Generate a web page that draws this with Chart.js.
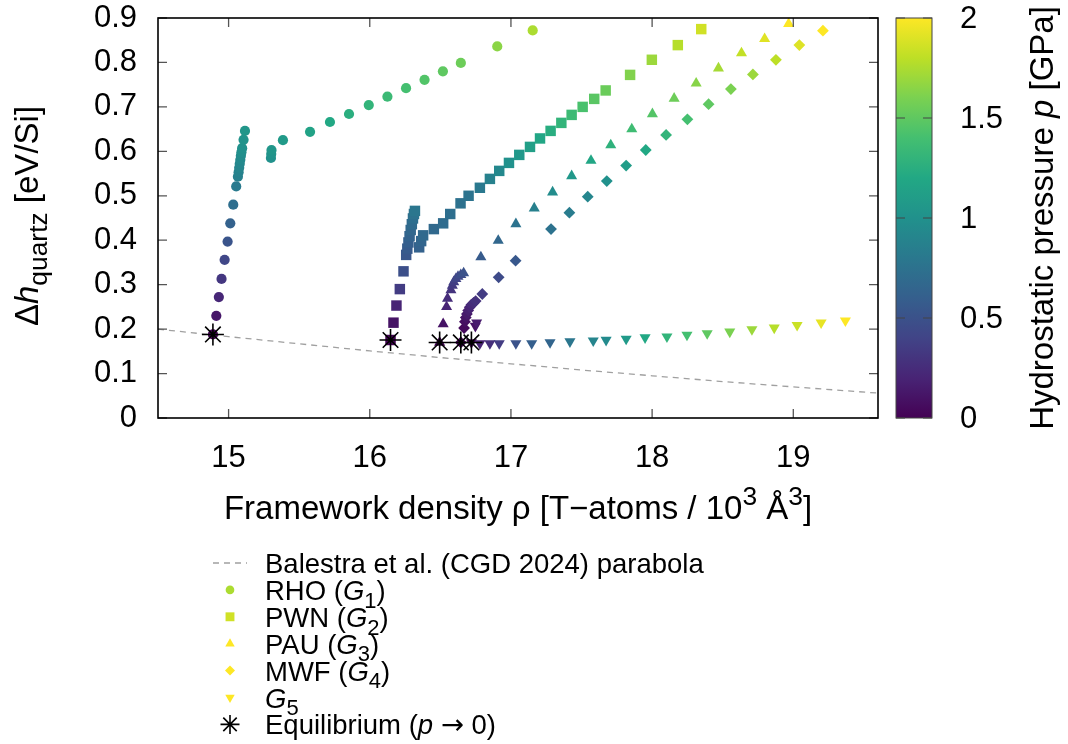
<!DOCTYPE html>
<html>
<head>
<meta charset="utf-8">
<script src="https://cdn.jsdelivr.net/npm/chart.js@4.4.1/dist/chart.umd.min.js"></script>
<style>
  html, body { margin: 0; padding: 0; background: #fff; }
</style>
</head>
<body>
<canvas id="chart" width="1068" height="744"></canvas>
<script>
// framework density rho [T-atoms / 10^3 A^3], energy dh [eV/Si], pressure p [GPa]
const parabolaX = [14.5, 15, 15.5, 16, 16.5, 17, 17.5, 18, 18.5, 19, 19.6];
const parabolaY = [0.200, 0.183, 0.167, 0.151, 0.136, 0.122, 0.108, 0.095, 0.082, 0.070, 0.056];

const rhoX = [14.889, 14.913, 14.931, 14.950, 14.972, 14.993, 15.012, 15.033, 15.054, 15.066, 15.071, 15.075, 15.079, 15.083, 15.087, 15.091, 15.096, 15.106, 15.116, 15.300, 15.302, 15.304, 15.385, 15.577, 15.718, 15.853, 15.993, 16.125, 16.257, 16.388, 16.518, 16.645, 16.903, 17.154];
const rhoY = [0.188, 0.230, 0.272, 0.313, 0.356, 0.397, 0.438, 0.480, 0.521, 0.543, 0.553, 0.563, 0.572, 0.581, 0.590, 0.598, 0.607, 0.626, 0.646, 0.585, 0.594, 0.603, 0.625, 0.644, 0.666, 0.684, 0.704, 0.723, 0.742, 0.761, 0.780, 0.799, 0.836, 0.872];
const rhoP = [0, 0.12, 0.22, 0.32, 0.42, 0.52, 0.62, 0.72, 0.82, 0.86, 0.88, 0.90, 0.92, 0.94, 0.96, 0.98, 1.00, 1.02, 1.04, 1.00, 1.02, 1.04, 1.08, 1.15, 1.20, 1.25, 1.30, 1.35, 1.40, 1.45, 1.50, 1.55, 1.65, 1.75];

const pwnX = [16.147, 16.168, 16.189, 16.213, 16.239, 16.258, 16.266, 16.274, 16.282, 16.290, 16.298, 16.306, 16.313, 16.320, 16.350, 16.364, 16.378, 16.454, 16.520, 16.570, 16.643, 16.700, 16.780, 16.851, 16.917, 16.986, 17.059, 17.135, 17.206, 17.281, 17.357, 17.430, 17.508, 17.590, 17.671, 17.844, 17.998, 18.182, 18.348];
const pwnY = [0.1755, 0.2145, 0.253, 0.290, 0.330, 0.367, 0.381, 0.395, 0.409, 0.423, 0.436, 0.449, 0.459, 0.466, 0.384, 0.398, 0.411, 0.425, 0.438, 0.459, 0.483, 0.500, 0.518, 0.538, 0.556, 0.574, 0.592, 0.610, 0.629, 0.646, 0.664, 0.682, 0.700, 0.718, 0.737, 0.772, 0.806, 0.839, 0.875];
const pwnP = [0, 0.10, 0.20, 0.35, 0.48, 0.54, 0.57, 0.60, 0.63, 0.66, 0.69, 0.72, 0.75, 0.78, 0.62, 0.65, 0.68, 0.68, 0.70, 0.72, 0.74, 0.76, 0.80, 0.87, 0.93, 1.00, 1.06, 1.12, 1.18, 1.24, 1.30, 1.36, 1.42, 1.48, 1.54, 1.62, 1.70, 1.78, 1.86];

const pauX = [16.495, 16.520, 16.544, 16.551, 16.575, 16.585, 16.595, 16.610, 16.625, 16.645, 16.665, 16.787, 16.910, 17.035, 17.165, 17.295, 17.430, 17.567, 17.707, 17.856, 18.002, 18.156, 18.312, 18.470, 18.633, 18.797, 18.967];
const pauY = [0.170, 0.2115, 0.250, 0.269, 0.288, 0.298, 0.306, 0.313, 0.318, 0.322, 0.326, 0.362, 0.399, 0.4365, 0.472, 0.508, 0.5445, 0.579, 0.614, 0.650, 0.684, 0.719, 0.753, 0.787, 0.821, 0.853, 0.887];
const pauP = [0, 0.10, 0.20, 0.25, 0.30, 0.33, 0.36, 0.40, 0.43, 0.46, 0.50, 0.57, 0.66, 0.76, 0.86, 0.96, 1.06, 1.18, 1.28, 1.37, 1.46, 1.55, 1.64, 1.73, 1.82, 1.91, 2.00];

const mwfX = [16.645, 16.668, 16.674, 16.680, 16.688, 16.697, 16.708, 16.720, 16.735, 16.750, 16.797, 16.913, 17.033, 17.284, 17.414, 17.544, 17.679, 17.816, 17.955, 18.099, 18.250, 18.400, 18.558, 18.714, 18.877, 19.043, 19.210];
const mwfY = [0.170, 0.2025, 0.2167, 0.226, 0.234, 0.242, 0.249, 0.255, 0.259, 0.263, 0.279, 0.3166, 0.354, 0.425, 0.462, 0.498, 0.533, 0.568, 0.603, 0.637, 0.672, 0.706, 0.740, 0.773, 0.806, 0.839, 0.8715];
const mwfP = [0, 0.05, 0.08, 0.11, 0.14, 0.17, 0.20, 0.23, 0.26, 0.29, 0.35, 0.45, 0.55, 0.75, 0.83, 0.91, 1.00, 1.10, 1.20, 1.30, 1.40, 1.50, 1.60, 1.70, 1.80, 1.90, 2.00];

const g5X = [16.720, 16.748, 16.757, 16.780, 16.851, 16.917, 17.035, 17.147, 17.277, 17.418, 17.583, 17.674, 17.816, 17.950, 18.105, 18.247, 18.390, 18.550, 18.707, 18.865, 19.027, 19.197, 19.369];
const g5Y = [0.170, 0.207, 0.2145, 0.168, 0.168, 0.168, 0.168, 0.168, 0.170, 0.172, 0.174, 0.1755, 0.178, 0.181, 0.183, 0.187, 0.1905, 0.194, 0.1995, 0.203, 0.209, 0.2145, 0.219];
const g5P = [0, 0.10, 0.15, 0.20, 0.27, 0.35, 0.50, 0.60, 0.65, 0.78, 0.90, 0.95, 1.08, 1.20, 1.30, 1.40, 1.50, 1.60, 1.70, 1.78, 1.84, 1.93, 2.00];

const eqX = [14.889, 16.147, 16.495, 16.645, 16.720];
const eqY = [0.188, 0.1755, 0.170, 0.170, 0.170];

const xTicks = [15, 16, 17, 18, 19];
const yTicks = [0, 0.1, 0.2, 0.3, 0.4, 0.5, 0.6, 0.7, 0.8, 0.9];
const cbTicks = [0, 0.5, 1, 1.5, 2];
const pMax = 2;

const FONT = '"Liberation Sans", Arial, sans-serif';
const FS = 31;        // tick labels
const FS_TITLE = 33;  // axis titles
const FS_KEY = 27.5;  // key entries

// viridis colour map
const viridisStops = ['#440154', '#482475', '#414487', '#355f8d', '#2a788e', '#21918c', '#22a884', '#44bf70', '#7ad151', '#bddf26', '#fde725'];
function hexRgb(h) {
  return [parseInt(h.slice(1, 3), 16), parseInt(h.slice(3, 5), 16), parseInt(h.slice(5, 7), 16)];
}
function viridis(t) {
  t = Math.max(0, Math.min(1, t));
  const n = viridisStops.length - 1;
  const i = Math.min(n - 1, Math.floor(t * n));
  const f = t * n - i;
  const a = hexRgb(viridisStops[i]), b = hexRgb(viridisStops[i + 1]);
  const c = a.map((v, k) => Math.round(v + (b[k] - v) * f));
  return 'rgb(' + c.join(',') + ')';
}

function points(xs, ys) {
  return xs.map((x, i) => ({ x: x, y: ys[i] }));
}

// text with italics, sub- and superscripts
function setFont(ctx, size, italic, family) {
  ctx.font = (italic ? 'italic ' : '') + size + 'px ' + (family || FONT);
}
function segSize(s, fs) {
  return (s.sub || s.sup) ? fs * 0.8 : fs;
}
function richWidth(ctx, segs, fs) {
  let w = 0;
  for (const s of segs) {
    setFont(ctx, segSize(s, fs), s.it, s.fam);
    w += ctx.measureText(s.t).width;
  }
  return w;
}
function drawRich(ctx, segs, x, y, fs, align) {
  const w = richWidth(ctx, segs, fs);
  let cx = align === 'center' ? x - w / 2 : align === 'right' ? x - w : x;
  ctx.textAlign = 'left';
  ctx.textBaseline = 'alphabetic';
  for (const s of segs) {
    setFont(ctx, segSize(s, fs), s.it, s.fam);
    const dy = s.sub ? fs * 0.28 : s.sup ? -fs * 0.42 : 0;
    ctx.fillText(s.t, cx, y + dy);
    cx += ctx.measureText(s.t).width;
  }
}

function series(label, xs, ys, ps, style, radius, rotation, order) {
  return {
    label: label,
    data: points(xs, ys),
    pointStyle: style,
    pointRadius: radius,
    pointRotation: rotation,
    pointBackgroundColor: ps.map(p => viridis(p / pMax)),
    pointBorderWidth: 0,
    legendColor: viridis(ps[ps.length - 1] / pMax),
    showLine: false,
    order: order
  };
}

const datasets = [
  {
    label: 'Balestra et al. (CGD 2024) parabola',
    data: points(parabolaX, parabolaY),
    showLine: true,
    borderColor: '#a0a0a0',
    borderWidth: 1.3,
    borderDash: [6, 5],
    pointRadius: 0,
    order: 6,
    legendText: [{ t: 'Balestra et al. (CGD 2024) parabola' }]
  },
  Object.assign(series('RHO', rhoX, rhoY, rhoP, 'circle', 5.1, 0, 5),
    { legendText: [{ t: 'RHO (' }, { t: 'G', it: true }, { t: '1', sub: true }, { t: ')' }] }),
  Object.assign(series('PWN', pwnX, pwnY, pwnP, 'rect', 7.4, 0, 4),
    { legendText: [{ t: 'PWN (' }, { t: 'G', it: true }, { t: '2', sub: true }, { t: ')' }] }),
  Object.assign(series('PAU', pauX, pauY, pauP, 'triangle', 6.4, 0, 3),
    { legendText: [{ t: 'PAU (' }, { t: 'G', it: true }, { t: '3', sub: true }, { t: ')' }] }),
  Object.assign(series('MWF', mwfX, mwfY, mwfP, 'rectRot', 5.9, 0, 2),
    { legendText: [{ t: 'MWF (' }, { t: 'G', it: true }, { t: '4', sub: true }, { t: ')' }] }),
  Object.assign(series('G5', g5X, g5Y, g5P, 'triangle', 6.4, 180, 1),
    { legendText: [{ t: 'G', it: true }, { t: '5', sub: true }] }),
  {
    label: 'Equilibrium',
    data: points(eqX, eqY),
    showLine: false,
    pointStyle: 'star',
    pointRadius: 11,
    pointBorderColor: '#000',
    pointBorderWidth: 1.6,
    pointBackgroundColor: 'rgba(0,0,0,0)',
    legendColor: '#000',
    order: 0,
    legendText: [
      { t: 'Equilibrium (' }, { t: 'p', it: true }, { t: ' ' },
      { t: '\u2192', fam: '"DejaVu Sans", sans-serif' }, { t: ' 0)' }
    ]
  }
];

// frame with inward ticks, axis titles, colour bar and key
const decorations = {
  id: 'decorations',
  afterDraw(chart) {
    const ctx = chart.ctx;
    const area = chart.chartArea;
    const xs = chart.scales.x, ys = chart.scales.y;
    ctx.save();

    // inward tick marks on all four sides
    ctx.strokeStyle = '#555';
    ctx.lineWidth = 1.3;
    ctx.beginPath();
    for (const v of xTicks) {
      const px = xs.getPixelForValue(v);
      ctx.moveTo(px, area.bottom); ctx.lineTo(px, area.bottom - 9);
      ctx.moveTo(px, area.top); ctx.lineTo(px, area.top + 9);
    }
    for (const v of yTicks) {
      const py = ys.getPixelForValue(v);
      ctx.moveTo(area.left, py); ctx.lineTo(area.left + 9, py);
      ctx.moveTo(area.right, py); ctx.lineTo(area.right - 9, py);
    }
    ctx.stroke();

    ctx.strokeStyle = '#000';
    ctx.lineWidth = 1.6;
    ctx.strokeRect(area.left, area.top, area.right - area.left, area.bottom - area.top);

    ctx.fillStyle = '#000';
    // x title
    drawRich(ctx, [
      { t: 'Framework density \u03c1 [T\u2212atoms / 10' }, { t: '3', sup: true },
      { t: ' \u00c5' }, { t: '3', sup: true }, { t: ']' }
    ], (area.left + area.right) / 2, 519, FS_TITLE, 'center');

    // y title
    ctx.save();
    ctx.translate(38, (area.top + area.bottom) / 2 - 2);
    ctx.rotate(-Math.PI / 2);
    drawRich(ctx, [
      { t: '\u0394' }, { t: 'h', it: true }, { t: 'quartz', sub: true }, { t: ' [eV/Si]' }
    ], 0, 0, FS_TITLE, 'center');
    ctx.restore();

    // colour bar
    const cb0 = 896, cb1 = 932;
    const grad = ctx.createLinearGradient(0, area.bottom, 0, area.top);
    viridisStops.forEach((c, i) => grad.addColorStop(i / (viridisStops.length - 1), c));
    ctx.fillStyle = grad;
    ctx.fillRect(cb0, area.top, cb1 - cb0, area.bottom - area.top);
    ctx.strokeStyle = '#444';
    ctx.lineWidth = 1;
    ctx.strokeRect(cb0, area.top, cb1 - cb0, area.bottom - area.top);
    const cbY = p => area.bottom - (p / pMax) * (area.bottom - area.top);
    ctx.beginPath();
    for (const v of cbTicks) {
      const py = cbY(v);
      ctx.moveTo(cb0, py); ctx.lineTo(cb0 + 9, py);
      ctx.moveTo(cb1, py); ctx.lineTo(cb1 - 9, py);
    }
    ctx.stroke();
    ctx.fillStyle = '#000';
    setFont(ctx, FS, false);
    ctx.textAlign = 'left';
    ctx.textBaseline = 'middle';
    for (const v of cbTicks) {
      ctx.fillText(String(v), 960, cbY(v) + 1);
    }
    ctx.save();
    ctx.translate(1053, (area.top + area.bottom) / 2);
    ctx.rotate(-Math.PI / 2);
    drawRich(ctx, [
      { t: 'Hydrostatic pressure ' }, { t: 'p', it: true }, { t: ' [GPa]' }
    ], 0, 0, FS_TITLE, 'center');
    ctx.restore();

    // key
    const rowY0 = 563, rowH = 26.9, symX = 230, textX = 265;
    chart.data.datasets.forEach((ds, i) => {
      const cy = rowY0 + i * rowH;
      if (ds.showLine) {
        ctx.save();
        ctx.strokeStyle = ds.borderColor;
        ctx.lineWidth = ds.borderWidth;
        ctx.setLineDash(ds.borderDash);
        ctx.beginPath();
        ctx.moveTo(213, cy); ctx.lineTo(247, cy);
        ctx.stroke();
        ctx.restore();
      } else {
        ctx.save();
        ctx.fillStyle = ds.legendColor;
        ctx.strokeStyle = ds.pointBorderColor || ds.legendColor;
        ctx.lineWidth = ds.pointBorderWidth || 0;
        Chart.helpers.drawPoint(ctx, {
          pointStyle: ds.pointStyle,
          radius: ds.pointStyle === 'star' ? 9.5 : ds.pointRadius * 0.85,
          rotation: ds.pointRotation || 0,
          borderWidth: ds.pointBorderWidth || 0
        }, symX, cy);
        ctx.restore();
      }
      ctx.fillStyle = '#000';
      drawRich(ctx, ds.legendText, textX, cy + 10, FS_KEY, 'left');
    });

    ctx.restore();
  }
};

const tickFont = { family: FONT, size: FS };

new Chart(document.getElementById('chart'), {
  type: 'scatter',
  data: { datasets: datasets },
  options: {
    responsive: false,
    animation: false,
    devicePixelRatio: 1,
    events: [],
    layout: { padding: { top: 18, right: 190, bottom: 0, left: 0 } },
    plugins: { legend: { display: false }, tooltip: { enabled: false } },
    scales: {
      x: {
        type: 'linear',
        min: 14.5,
        max: 19.6,
        afterBuildTicks: s => { s.ticks = xTicks.map(v => ({ value: v })); },
        afterFit: s => { s.height = 326; s.paddingLeft = 0; s.paddingRight = 0; },
        grid: { display: false, drawTicks: false },
        border: { display: false },
        ticks: { font: tickFont, color: '#000', padding: 22, maxRotation: 0, autoSkip: false, callback: v => String(v) }
      },
      y: {
        type: 'linear',
        min: 0,
        max: 0.9,
        afterBuildTicks: s => { s.ticks = yTicks.map(v => ({ value: v })); },
        afterFit: s => { s.width = 158; s.paddingTop = 0; s.paddingBottom = 0; },
        grid: { display: false, drawTicks: false },
        border: { display: false },
        ticks: { font: tickFont, color: '#000', padding: 21, autoSkip: false, callback: v => String(+v.toFixed(1)) }
      }
    }
  },
  plugins: [decorations]
});
</script>
</body>
</html>
